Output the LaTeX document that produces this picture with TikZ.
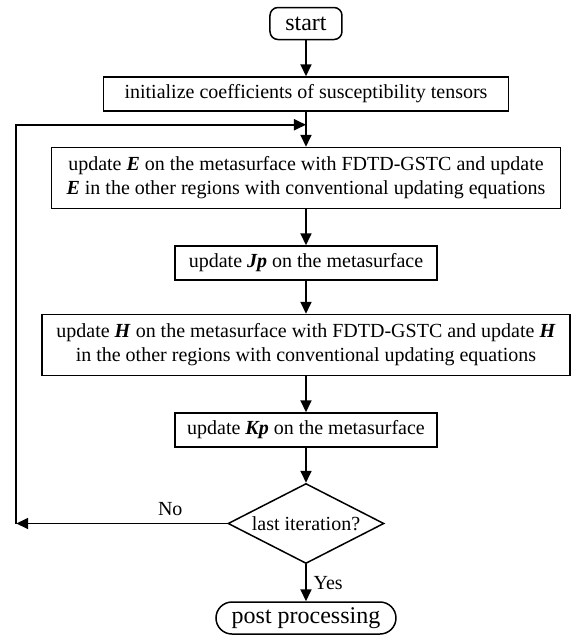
\documentclass[tikz,border=0pt]{standalone}
\usepackage{fontspec}
\setmainfont{Liberation Serif}
\usetikzlibrary{arrows.meta,positioning,shapes.geometric}

\newcommand{\bfit}[1]{\textbf{\textit{#1}}}

\begin{document}
\begin{tikzpicture}[
    node distance=18pt,
    box/.style={rectangle, draw, line width=0.75pt, minimum height=17pt, inner xsep=4pt, inner ysep=2pt, align=center, font=\fontsize{10}{12}\selectfont},
    term/.style={rectangle, draw, line width=0.75pt, minimum height=16pt, inner sep=0pt, font=\fontsize{12}{14}\selectfont},
    decision/.style={diamond, draw, aspect=1.9, line width=0.75pt, minimum width=78pt, minimum height=40pt, inner sep=0pt, font=\fontsize{10}{12}\selectfont},
    arrow/.style={-{Triangle[length=6pt, width=5.5pt]}, line width=0.9pt}
]
\useasboundingbox (-153pt,11.75pt) rectangle (134.5pt,-307.75pt);

% Start and initialization
\node[term, rounded corners=4pt, minimum width=36pt] (start) at (0,0) {start};
\node[box, minimum width=202.5pt, below=18pt of start] (init) {initialize coefficients of susceptibility tensors};

% Update loop
\node[box, minimum width=254.5pt, minimum height=30.5pt, below=17.5pt of init] (updE) {update \bfit{E} on the metasurface with FDTD-GSTC and update\\\bfit{E} in the other regions with conventional updating equations};
\node[box, minimum width=131pt, below=18pt of updE] (updJ) {update \bfit{Jp} on the metasurface};
\node[box, minimum width=264pt, minimum height=30.5pt, below=16.5pt of updJ] (updH) {update \bfit{H} on the metasurface with FDTD-GSTC and update \bfit{H}\\in the other regions with conventional updating equations};
\node[box, minimum width=131pt, below=18pt of updH] (updK) {update \bfit{Kp} on the metasurface};

% Decision and end
\node[decision, below=17.5pt of updK] (last) {last iteration?};
\node[term, rounded corners=8pt, minimum width=90pt, below=18.5pt of last] (post) {post processing};

% Loop back points
\coordinate[below=6.5pt of init.south] (join);
\coordinate[left=105.5pt of last.west] (noend);

% Arrows
\draw[arrow] (start) -- (init);
\draw[arrow] (init) -- (updE);
\draw[arrow] (updE) -- (updJ);
\draw[arrow] (updJ) -- (updH);
\draw[arrow] (updH) -- (updK);
\draw[arrow] (updK) -- (last);
\draw[arrow] (last) -- node[right, font=\fontsize{10}{12}\selectfont] {Yes} (post);
\draw[arrow] (last.west) -- node[above, pos=0.27, font=\fontsize{10}{12}\selectfont] {No} (noend);
\draw[arrow] (noend) |- (join);
\end{tikzpicture}
\end{document}
